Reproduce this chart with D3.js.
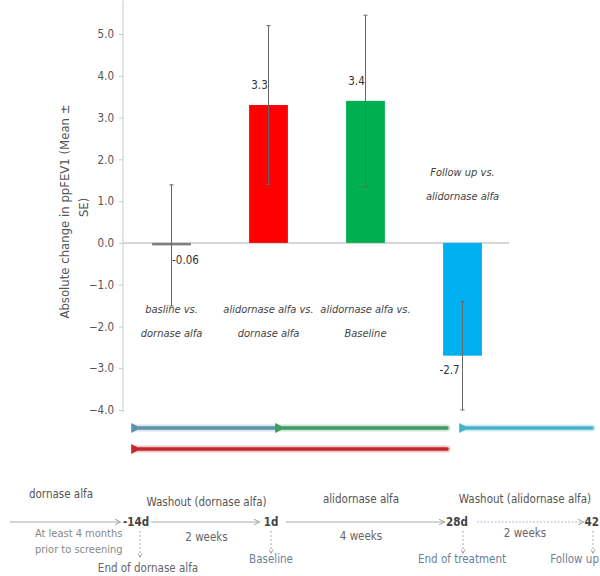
<!DOCTYPE html>
<html><head><meta charset="utf-8">
<script src="https://cdn.jsdelivr.net/npm/d3@7"></script>
<style>
body{margin:0;background:#fff;}
text{font-family:"DejaVu Sans Condensed","DejaVu Sans",sans-serif;font-stretch:condensed;}
</style></head>
<body><svg id="c" width="600" height="576"></svg>
<script>
// ---- data ----
const categories = ["baseline_vs_dornase","alidornase_vs_dornase","alidornase_vs_baseline","followup_vs_alidornase"];
const categoryLabels = [["basline vs.","dornase alfa"],["alidornase alfa vs.","dornase alfa"],["alidornase alfa vs.","Baseline"],["Follow up vs.","alidornase alfa"]];
const values = [-0.06, 3.3, 3.4, -2.7];
const errors = [1.45, 1.9, 2.05, 1.3];
const valueLabels = ["-0.06","3.3","3.4","-2.7"];
const barColors = ["#7f7f7f","#ff0000","#00b050","#00b0f0"];
const yTicks = [5,4,3,2,1,0,-1,-2,-3,-4];
const milestones = [-14, 1, 28, 42];
const milestoneLabels = ["-14d","1d","28d","42"];
const milestoneNotes = ["End of dornase alfa","Baseline","End of treatment","Follow up"];
const periodTitles = ["Washout (dornase alfa)","alidornase alfa","Washout (alidornase alfa)"];
const periodDurations = ["2 weeks","4 weeks","2 weeks"];
const comparisonSpans = [
  {from:1, to:-14, row:0, color:"#5d92ab"},
  {from:28, to:1, row:0, color:"#3d9b60"},
  {from:28, to:-14, row:1, color:"#c3262d"},
  {from:42, to:28, row:0, color:"#45b4c8"}
];

const svg = d3.select("#c");
const x = d3.scaleBand().domain(categories).range([123, 511]).paddingInner(0.6).paddingOuter(0.3);
const y = d3.scaleLinear().domain([-4, 5]).range([410, 34]);

// y axis
const yAxis = d3.axisLeft(y).tickValues(yTicks).tickFormat(d3.format(".1f")).tickSize(4).tickPadding(5);
const gy = svg.append("g").attr("transform","translate(123,0)").call(yAxis);
gy.select(".domain").remove();
gy.selectAll(".tick line").attr("stroke","#c8c8c8");
gy.selectAll(".tick text").attr("fill","#555").style("font-size","11.5px").style("font-family","DejaVu Sans Condensed, DejaVu Sans, sans-serif");
svg.append("line").attr("x1",123).attr("x2",123).attr("y1",y(5.8)).attr("y2",y(-4.05)).attr("stroke","#c8c8c8");

// zero line
svg.append("line").attr("x1",123).attr("x2",509).attr("y1",y(0)).attr("y2",y(0)).attr("stroke","#c8c8c8").attr("stroke-width",1.5);

// y label
svg.append("text").attr("transform",`translate(69,${y(0.75)}) rotate(-90)`).attr("text-anchor","middle")
  .attr("fill","#555").style("font-size","13px").text("Absolute change in ppFEV1 (Mean ±");
svg.append("text").attr("transform",`translate(88,${y(0.85)}) rotate(-90)`).attr("text-anchor","middle")
  .attr("fill","#555").style("font-size","13px").text("SE)");

// bars
categories.forEach((c,i)=>{
  const v = values[i];
  const y0 = y(Math.max(0,v)), y1 = y(Math.min(0,v));
  svg.append("rect").attr("x",x(c)).attr("width",x.bandwidth())
    .attr("y",y0).attr("height",Math.max(2,y1-y0)).attr("fill",barColors[i]);
});
// error bars
categories.forEach((c,i)=>{
  const cx = x(c)+x.bandwidth()/2;
  const hi = y(values[i]+errors[i]), lo = y(values[i]-errors[i]);
  svg.append("line").attr("x1",cx).attr("x2",cx).attr("y1",hi).attr("y2",lo).attr("stroke","#666").attr("stroke-width",1);
  [hi,lo].forEach(yy=>svg.append("line").attr("x1",cx-2).attr("x2",cx+2).attr("y1",yy).attr("y2",yy).attr("stroke","#666"));
});
// value labels
categories.forEach((c,i)=>{
  const cx = x(c)+x.bandwidth()/2;
  const v = values[i];
  let tx, ty;
  if (i===0){ tx = cx+14; ty = y(v)+19; }
  else if (v>0){ tx = cx-9; ty = y(v)-16; }
  else { tx = cx-13; ty = y(v)+18; }
  svg.append("text").attr("x",tx).attr("y",ty).attr("text-anchor","middle").attr("fill","#333")
    .style("font-size","11.5px").text(valueLabels[i]);
});
// category labels
categories.forEach((c,i)=>{
  const cx = x(c)+x.bandwidth()/2;
  const base = values[i] < -1 ? y(1.6) : y(-1.67);
  categoryLabels[i].forEach((t,j)=>{
    svg.append("text").attr("x",cx).attr("y",base+j*24).attr("text-anchor","middle").attr("fill","#444")
      .style("font-size","11px").style("font-style","italic").text(t);
  });
});

// timeline scale
const tX = d3.scaleLinear().domain(milestones).range([136,271,457,597]);

// comparison arrows
const defs = svg.append("defs");
comparisonSpans.forEach((s,k)=>{
  defs.append("marker").attr("id","ah"+k).attr("viewBox","0 0 10 10").attr("refX",2).attr("refY",5)
    .attr("markerWidth",2.8).attr("markerHeight",2.8).attr("orient","auto-start-reverse")
    .append("path").attr("d","M0,5 L10,0 L10,10 Z").attr("fill",s.color);
});
const rowY = [428, 449];
const startOff = d => d===-14 ? -1 : (d===1 ? 8 : 6);
const endOff = d => d===28 ? -10 : (d===42 ? -5 : 6);
comparisonSpans.forEach((s,k)=>{
  const xl = tX(s.to)+startOff(s.to), xr = tX(s.from)+endOff(s.from);
  const yy = rowY[s.row];
  svg.append("line").attr("x1",xl).attr("x2",xr).attr("y1",yy).attr("y2",yy)
    .attr("stroke",s.color).attr("stroke-opacity",0.25).attr("stroke-width",7).attr("stroke-linecap","round");
  svg.append("line").attr("x1",xr).attr("x2",xl+4).attr("y1",yy).attr("y2",yy)
    .attr("stroke",s.color).attr("stroke-width",3.5).attr("stroke-linecap","round")
    .attr("marker-end",`url(#ah${k})`);
});

// bottom timeline
defs.append("marker").attr("id","tl").attr("viewBox","0 0 10 10").attr("refX",9).attr("refY",5)
  .attr("markerWidth",5).attr("markerHeight",5).attr("orient","auto")
  .append("path").attr("d","M0,0 L10,5 L0,10").attr("fill","none").attr("stroke","#999").attr("stroke-width",1.5);
const lineY = 522;
const segs = [[10, tX(-14)-16],[tX(-14)+15, tX(1)-12],[tX(1)+15, tX(28)-13],[tX(28)+20, tX(42)-14]];
segs.forEach((s,i)=>{
  svg.append("line").attr("x1",s[0]).attr("x2",s[1]).attr("y1",lineY).attr("y2",lineY)
    .attr("stroke", i===3 ? "#b8b4cc" : "#aaa").attr("stroke-width",1.2)
    .attr("stroke-dasharray", i===3 ? "2,1.5" : null).attr("marker-end","url(#tl)");
});
milestones.forEach((m,i)=>{
  svg.append("text").attr("x",i===3 ? 599 : tX(m)).attr("y",lineY+4).attr("text-anchor",i===3?"end":"middle").attr("fill","#444")
    .style("font-size","11.5px").style("font-weight","bold").text(milestoneLabels[i]);
  const ax = tX(m) + (i===0 ? 4 : (i===2 ? 6 : (i===3 ? -4 : 0)));
  svg.append("line").attr("x1",ax).attr("x2",ax).attr("y1",lineY+9).attr("y2",lineY+(i===0?35:31))
    .attr("stroke","#aaa").attr("stroke-dasharray","2,2").attr("marker-end","url(#tl)");
});
// notes under milestones
[[148,572,"middle"],[271,563,"middle"],[462,563,"middle"],[599,563,"end"]].forEach((p,i)=>{
  svg.append("text").attr("x",p[0]).attr("y",p[1]).attr("text-anchor",p[2])
    .attr("fill", i===0 ? "#666" : "#6b7f99").style("font-size","11.5px").text(milestoneNotes[i]);
});
// period texts
svg.append("text").attr("x",61).attr("y",498).attr("text-anchor","middle").attr("fill","#555").style("font-size","11.5px").text("dornase alfa");
svg.append("text").attr("x",35).attr("y",537).attr("fill","#888").style("font-size","11px").text("At least 4 months");
svg.append("text").attr("x",35).attr("y",553).attr("fill","#888").style("font-size","11px").text("prior to screening");
const periodMid = [[(tX(-14)+tX(1))/2+3, 506, 541],[(tX(1)+tX(28))/2-3, 503, 540],[(tX(28)+tX(42))/2-2, 503, 537]];
periodMid.forEach((p,i)=>{
  svg.append("text").attr("x",p[0]).attr("y",p[1]).attr("text-anchor","middle").attr("fill","#555").style("font-size","11.5px").text(periodTitles[i]);
  svg.append("text").attr("x",p[0]).attr("y",p[2]).attr("text-anchor","middle").attr("fill","#666").style("font-size","11.5px").text(periodDurations[i]);
});
</script></body></html>
